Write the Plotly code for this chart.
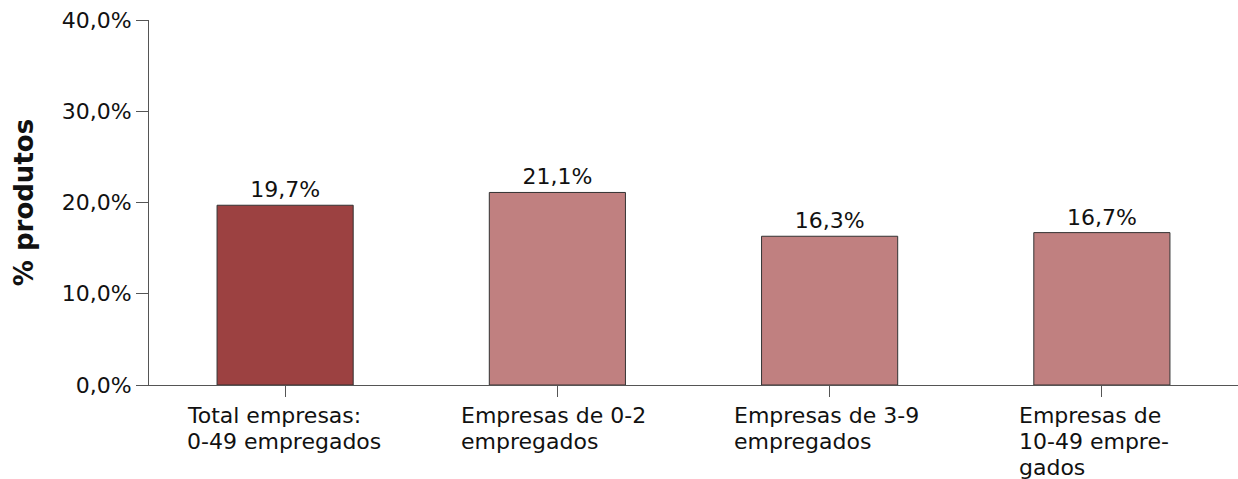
import plotly.graph_objects as go

categories = ["Total empresas:<br>0-49 empregados",
              "Empresas de 0-2<br>empregados",
              "Empresas de 3-9<br>empregados",
              "Empresas de<br>10-49 empre-<br>gados"]
values = [19.7, 21.1, 16.3, 16.7]
value_labels = ["19,7%", "21,1%", "16,3%", "16,7%"]
y_ticks = [0, 10, 20, 30, 40]
y_tick_labels = ["0,0%", "10,0%", "20,0%", "30,0%", "40,0%"]
colors = ["#9C4141", "#C08080", "#C08080", "#C08080"]
label_shift = [-100, -98, -98, -85]

xs = list(range(len(categories)))
FONT = "DejaVu Sans"
FS = 22
LINE = 26

fig = go.Figure(go.Bar(
    x=xs, y=values, width=0.5,
    marker=dict(color=colors, line=dict(color="#333333", width=1)),
    text=value_labels, textposition="outside",
    textfont=dict(family=FONT, size=FS, color="#111111"),
    cliponaxis=False,
))

for i, c in enumerate(categories):
    for j, line in enumerate(c.split("<br>")):
        fig.add_annotation(x=xs[i], y=0, xref="x", yref="y", text=line,
                           showarrow=False, xanchor="left", yanchor="top",
                           align="left", xshift=label_shift[i],
                           yshift=-16 - LINE * j,
                           font=dict(family=FONT, size=FS, color="#111111"))

fig.update_layout(
    width=1238, height=479,
    margin=dict(l=149, r=0, t=20, b=94),
    plot_bgcolor="white", paper_bgcolor="white",
    showlegend=False,
    font=dict(family=FONT, size=FS, color="#111111"),
    xaxis=dict(range=[-0.5, 3.5], tickvals=xs, ticktext=["", "", "", ""],
               showline=True, linecolor="#555555", linewidth=1,
               ticks="outside", ticklen=11, tickcolor="#555555",
               showgrid=False, zeroline=False, fixedrange=True),
    yaxis=dict(range=[0, 40], tickvals=y_ticks, ticktext=y_tick_labels,
               showline=True, linecolor="#555555", linewidth=1,
               ticks="outside", ticklen=12, tickcolor="#555555",
               showgrid=False, zeroline=False,
               tickfont=dict(family=FONT, size=FS, color="#111111"),
               title=dict(text="<b>% produtos</b>", standoff=20,
                          font=dict(family=FONT, size=26, color="#111111"))),
)

fig.write_html("out.html", config={"displayModeBar": False},
               post_script="document.body.style.margin='0';")
